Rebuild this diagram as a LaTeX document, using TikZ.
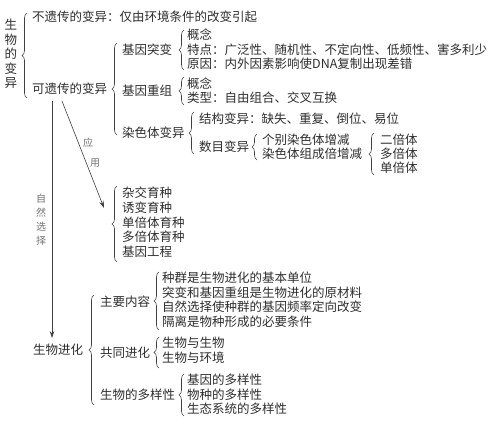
\documentclass[tikz,border=0pt]{standalone}
% Note: the reference image carries a brown advertising overlay (a betting-site
% banner with a URL) that is not part of the diagram; it is deliberately left out.
% The diagram parts hidden under it (基因重组's second item, 染色体变异 and its
% sub-branches) are reconstructed from the faintly visible fragments; the text
% "类型：自由组合、交叉互换" in particular is an inference, not a reading.
\usepackage{fontspec}
\setmainfont{Noto Sans CJK SC}
\usetikzlibrary{decorations.pathreplacing,arrows.meta}
\begin{document}
\begin{tikzpicture}[x=1pt,y=-1pt,
  txt/.style={anchor=west,inner sep=0pt,font=\fontsize{12.5}{13}\selectfont,text=black!82},
  vert/.style={inner sep=0pt,align=center,font=\fontsize{12.5}{14.5}\selectfont,text=black!82},
  small/.style={inner sep=0pt,align=center,font=\fontsize{10}{14}\selectfont,text=black!55},
  curly/.style={draw=black!75,line width=0.6pt,decorate,decoration={brace,amplitude=5pt,aspect=0.5}},
  arr/.style={draw=black!75,line width=0.6pt,-{Stealth[length=7pt,width=4.5pt]}}]
\useasboundingbox (0,0) rectangle (490,435);
\fill[white] (0,0) rectangle (490,435);

% ---------- 生物的变异 ----------
\node[vert] (sbby) at (11,54) {生\\物\\的\\变\\异};
\draw[curly] (27,98) -- (27,13);
\node[txt] (bycby) at (32,17) {不遗传的变异：仅由环境条件的改变引起};
\node[txt] (kyc) at (32,89) {可遗传的变异};
\draw[curly] (117,135) -- (117,43);

% 基因突变
\node[txt] (jytb) at (122,50) {基因突变};
\draw[curly] (184,70) -- (184,30);
\node[txt] (tbgn) at (187,35) {概念};
\node[txt] (tbtd) at (187,50) {特点：广泛性、随机性、不定向性、低频性、害多利少};
\node[txt] (tbyy) at (187,64) {原因：内外因素影响使DNA复制出现差错};

% 基因重组
\node[txt] (jycz) at (122,91) {基因重组};
\draw[curly] (184,105) -- (184,77);
\node[txt] (czgn) at (187,84) {概念};
\node[txt] (czlx) at (187,98) {类型：自由组合、交叉互换};

% 染色体变异
\node[txt] (rstby) at (122,133) {染色体变异};
\draw[curly] (194,154) -- (194,112);
\node[txt] (jgby) at (199,119) {结构变异：缺失、重复、倒位、易位};
\node[txt] (smby) at (199,147) {数目变异};
\draw[curly] (257,160) -- (257,134);
\node[txt] (gb) at (262,140) {个别染色体增减};
\node[txt] (rstz) at (262,154) {染色体组成倍增减};
\draw[curly] (374,175) -- (374,133);
\node[txt] (ebt) at (380,140) {二倍体};
\node[txt] (dbt) at (380,154) {多倍体};
\node[txt] (sbt) at (380,168) {单倍体};

% 应用 -> 育种
\node[small] (ying) at (88,143) {应};
\node[small] (yong) at (95,163) {用};
\coordinate (yzend) at (104,208);
\draw[arr] ([xshift=30pt,yshift=-6pt]kyc.south west) -- (yzend);
\draw[curly] (117,262) -- (117,186);
\node[txt] (yz1) at (122,193) {杂交育种};
\node[txt] (yz2) at (122,208) {诱变育种};
\node[txt] (yz3) at (122,223) {单倍体育种};
\node[txt] (yz4) at (122,237) {多倍体育种};
\node[txt] (yz5) at (122,252) {基因工程};

% 自然选择 -> 生物进化
\node[small] (zrxz) at (41,220) {自\\然\\选\\择};
\node[txt] (jh) at (33,350) {生物进化};
\draw[arr] ([xshift=20pt,yshift=-6pt]kyc.south west) -- ([xshift=19pt,yshift=6pt]jh.north west);
\draw[curly] (94,405) -- (94,295);

% 主要内容
\node[txt] (zynr) at (100,302) {主要内容};
\draw[curly] (159,330) -- (159,272);
\node[txt] (nr1) at (162,278) {种群是生物进化的基本单位};
\node[txt] (nr2) at (162,293) {突变和基因重组是生物进化的原材料};
\node[txt] (nr3) at (162,307) {自然选择使种群的基因频率定向改变};
\node[txt] (nr4) at (162,322) {隔离是物种形成的必要条件};

% 共同进化
\node[txt] (gtjh) at (100,353) {共同进化};
\draw[curly] (159,368) -- (159,337);
\node[txt] (gt1) at (162,343) {生物与生物};
\node[txt] (gt2) at (162,358) {生物与环境};

% 生物的多样性
\node[txt] (dyx) at (100,395) {生物的多样性};
\draw[curly] (184,416) -- (184,374);
\node[txt] (dy1) at (187,380) {基因的多样性};
\node[txt] (dy2) at (187,395) {物种的多样性};
\node[txt] (dy3) at (187,409) {生态系统的多样性};
\end{tikzpicture}
\end{document}
